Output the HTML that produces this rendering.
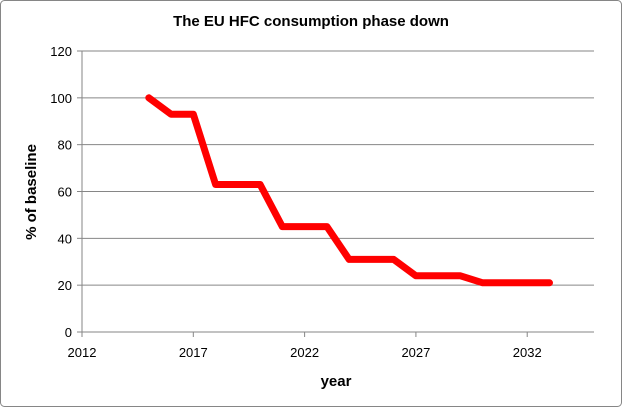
<!DOCTYPE html>
<html><head><meta charset="utf-8"><style>
html,body{margin:0;padding:0;background:#fff;}
svg{display:block;font-family:"Liberation Sans",sans-serif;}
</style></head><body>
<svg id="chart" width="622" height="407">
<rect x="0.5" y="0.5" width="621" height="406" rx="4" fill="#fff" stroke="#868686"/>
<text x="311" y="26" text-anchor="middle" font-size="15" font-weight="bold">The EU HFC consumption phase down</text>
<text x="0" y="0" transform="translate(36,192) rotate(-90)" text-anchor="middle" font-size="15" font-weight="bold">% of baseline</text>
<text x="336" y="386" text-anchor="middle" font-size="15" font-weight="bold">year</text>
<g id="grid"></g><g id="axes"></g><g id="series"></g>
</svg>
<script>
const years=[2015,2016,2017,2018,2019,2020,2021,2022,2023,2024,2025,2026,2027,2028,2029,2030,2031,2032,2033];
const values=[100,93,93,63,63,63,45,45,45,31,31,31,24,24,24,21,21,21,21];
const yTicks=[0,20,40,60,80,100,120];
const xTicks=[2012,2017,2022,2027,2032];
const NS="http://www.w3.org/2000/svg";
const x0=82,x1=594,y0=332,y1=51;
const xs=v=>x0+(v-2012)/(2035-2012)*(x1-x0);
const ys=v=>y0-(v/120)*(y0-y1);
function mk(t,a,p){const e=document.createElementNS(NS,t);for(const k in a)e.setAttribute(k,a[k]);p.appendChild(e);return e;}
const grid=document.getElementById('grid'),axes=document.getElementById('axes'),ser=document.getElementById('series');
yTicks.forEach(v=>{
  if(v>0){const l=mk('line',{x1:x0,x2:x1,y1:ys(v),y2:ys(v),stroke:'#868686','stroke-width':1},grid);
  
  }
  const tk=mk('line',{x1:x0-5,x2:x0,y1:ys(v),y2:ys(v),stroke:'#868686'},axes);
  
  
  const t=mk('text',{x:x0-10,y:ys(v)+5,'text-anchor':'end','font-size':13},axes);t.textContent=v;
  
  
});
const ya=mk('line',{x1:x0,x2:x0,y1:y1,y2:y0,stroke:'#868686'},axes);


const xa=mk('line',{x1:x0,x2:x1,y1:y0,y2:y0,stroke:'#868686'},axes);


xTicks.forEach(v=>{
  const tk=mk('line',{x1:xs(v),x2:xs(v),y1:y0,y2:y0+5,stroke:'#868686'},axes);
  
  
  const t=mk('text',{x:xs(v),y:y0+25,'text-anchor':'middle','font-size':13},axes);t.textContent=v;
  
  
});
const pts=years.map((y,i)=>xs(y).toFixed(1)+','+ys(values[i]).toFixed(1)).join(' ');
const pl=mk('polyline',{points:pts,fill:'none',stroke:'#ff0000','stroke-width':7,'stroke-linejoin':'round','stroke-linecap':'round'},ser);


</script>
</body></html>
